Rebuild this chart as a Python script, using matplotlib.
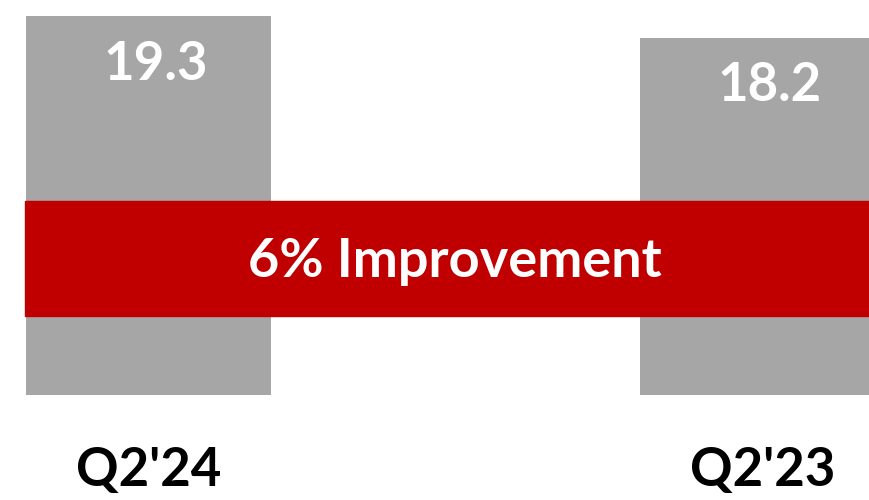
import matplotlib
matplotlib.use("Agg")
import matplotlib.pyplot as plt
from matplotlib.patches import Rectangle

# --- Data ---
periods = ["Q2'24", "Q2'23"]
values = [19.3, 18.2]
banner_text = "6% Improvement"

BAR_COLOR = "#A6A6A6"
RED = "#C00000"

plt.rcParams['font.family'] = ['Lato', 'DejaVu Sans']

fig = plt.figure(figsize=(8.7, 5), dpi=100)
ax = fig.add_axes([0, 0, 1, 1])

xs = list(range(len(values)))
ax.bar(xs, values, width=0.4, color=BAR_COLOR, zorder=1)

ax.set_xlim(-0.2417, 1.1741)
ax.set_ylim(-5.35, 20.13)
ax.axis("off")

# value labels near the top of each bar
for x, v in zip(xs, values):
    ax.text(x + 0.011, v - 2.45, f"{v:.1f}", ha="center", va="center",
            color="white", fontsize=38, fontweight="bold", zorder=3)

# period labels under the bars
for x, p in zip(xs, periods):
    ax.text(x, -3.85, p, ha="center", va="center",
            color="black", fontsize=38, fontweight="bold")

# red banner across both bars
ax.add_patch(Rectangle((25 / 870, 1 - 316 / 500), 1 - 25 / 870, 115 / 500,
                       transform=ax.transAxes, color=RED, zorder=2))
ax.text(455 / 870, 1 - 262 / 500, banner_text, transform=ax.transAxes,
        ha="center", va="center", color="white", fontsize=39,
        fontweight="bold", zorder=3)

fig.savefig("out.png", dpi=100)
